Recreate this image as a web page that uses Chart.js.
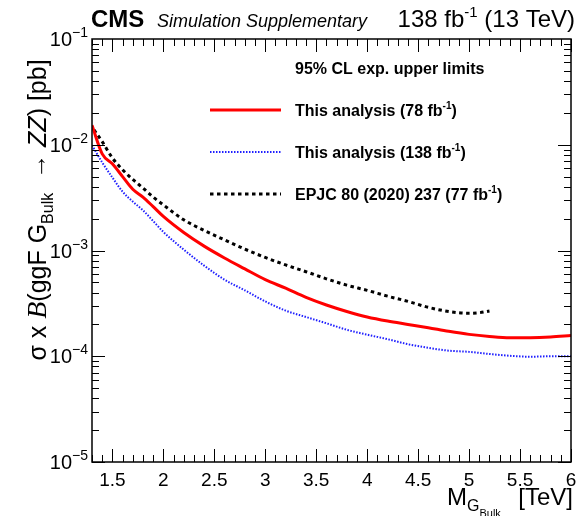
<!DOCTYPE html>
<html>
<head>
<meta charset="utf-8">
<script src="https://cdn.jsdelivr.net/npm/chart.js@4.4.0/dist/chart.umd.min.js"></script>
<style>
html, body { margin: 0; padding: 0; background: #fff; }
</style>
</head>
<body>
<canvas id="myChart" width="577" height="516"></canvas>
<script>
// expected limits: mass in TeV, limit in pb
var mass78 = [1.3, 1.4, 1.5, 1.6, 1.7, 1.8, 1.9, 2.0, 2.2, 2.4, 2.6, 2.8, 3.0, 3.2, 3.4, 3.6, 3.8, 4.0, 4.2, 4.4, 4.6, 4.8, 5.0, 5.2, 5.4, 5.6, 5.8, 6.0];
var limit78 = [0.0153, 0.0082, 0.0066, 0.0050, 0.0038, 0.0032, 0.0026, 0.0021, 0.00148, 0.00110, 0.00085, 0.00067, 0.00053, 0.00044, 0.00036, 0.000305, 0.000265, 0.000235, 0.000215, 0.000200, 0.000186, 0.000172, 0.000161, 0.000154, 0.000150, 0.000150, 0.000152, 0.000157];

var mass138 = [1.3, 1.4, 1.5, 1.6, 1.7, 1.8, 1.9, 2.0, 2.2, 2.4, 2.6, 2.8, 3.0, 3.2, 3.4, 3.6, 3.8, 4.0, 4.2, 4.4, 4.6, 4.8, 5.0, 5.2, 5.4, 5.6, 5.8, 6.0];
var limit138 = [0.0099, 0.0068, 0.0049, 0.0036, 0.0029, 0.0024, 0.0019, 0.00150, 0.00102, 0.00072, 0.00053, 0.00042, 0.00033, 0.00027, 0.000235, 0.000205, 0.000178, 0.000160, 0.000145, 0.000130, 0.000120, 0.000113, 0.000110, 0.000105, 0.000101, 0.000099, 0.000100, 0.000100];

var massEpjc = [1.32, 1.4, 1.5, 1.6, 1.7, 1.8, 1.9, 2.0, 2.2, 2.4, 2.6, 2.8, 3.0, 3.2, 3.4, 3.6, 3.8, 4.0, 4.2, 4.4, 4.6, 4.8, 5.0, 5.1, 5.2];
var limitEpjc = [0.0138, 0.0107, 0.0075, 0.0058, 0.0047, 0.0039, 0.0032, 0.0027, 0.00195, 0.00155, 0.00126, 0.00103, 0.00086, 0.00073, 0.00063, 0.00054, 0.00047, 0.00042, 0.00037, 0.00033, 0.00029, 0.000265, 0.000255, 0.000258, 0.000268];

var xTickValues = [1.5, 2, 2.5, 3, 3.5, 4, 4.5, 5, 5.5, 6];
var yDecades = [-5, -4, -3, -2, -1];

var legendHeader = '95% CL exp. upper limits';
var seriesLabels = ['This analysis (78 fb^{-1})', 'This analysis (138 fb^{-1})', 'EPJC 80 (2020) 237 (77 fb^{-1})'];

var SANS = '"Liberation Sans", Arial, Helvetica, sans-serif';

function points(xs, ys) {
	return xs.map(function(x, i) { return { x: x, y: ys[i] }; });
}

// split "abc^{-1}def" into normal / superscript pieces
function supParts(str, font, supFont, dy) {
	var parts = [];
	var bits = str.split(/\^\{(.*?)\}/);
	for (var i = 0; i < bits.length; i++) {
		if (bits[i] === '') continue;
		if (i % 2 === 0) parts.push({ text: bits[i], font: font, dy: 0 });
		else parts.push({ text: bits[i], font: supFont, dy: dy });
	}
	return parts;
}

function drawParts(ctx, parts, x, y, align) {
	var total = 0;
	parts.forEach(function(p) { ctx.font = p.font; total += ctx.measureText(p.text).width; });
	var cx = x;
	if (align === 'right') cx = x - total;
	else if (align === 'center') cx = x - total / 2;
	ctx.textAlign = 'left';
	parts.forEach(function(p) {
		ctx.font = p.font;
		ctx.fillText(p.text, cx, y + (p.dy || 0));
		cx += ctx.measureText(p.text).width;
	});
	return total;
}

var rootStyle = {
	id: 'rootStyle',
	afterDraw: function(chart) {
		var ctx = chart.ctx, a = chart.chartArea;
		var xs = chart.scales.x, ys = chart.scales.y;
		ctx.save();
		ctx.fillStyle = '#000';
		ctx.strokeStyle = '#000';
		ctx.textBaseline = 'alphabetic';

		// frame
		ctx.lineWidth = 1.5;
		ctx.strokeRect(a.left, a.top, a.right - a.left, a.bottom - a.top);

		// ticks inside the frame, all four sides
		ctx.lineWidth = 1;
		ctx.beginPath();
		for (var k = 13; k <= 60; k++) {
			var px = Math.round(xs.getPixelForValue(k / 10)) + 0.5;
			var len = (k % 5 === 0) ? 13 : 7;
			ctx.moveTo(px, a.bottom); ctx.lineTo(px, a.bottom - len);
			ctx.moveTo(px, a.top); ctx.lineTo(px, a.top + len);
		}
		for (var d = -5; d < -1; d++) {
			for (var m = 1; m <= 9; m++) {
				var py = Math.round(ys.getPixelForValue(m * Math.pow(10, d))) + 0.5;
				var l = (m === 1) ? 13 : 7;
				ctx.moveTo(a.left, py); ctx.lineTo(a.left + l, py);
				ctx.moveTo(a.right, py); ctx.lineTo(a.right - l, py);
			}
		}
		ctx.stroke();

		// y tick labels 10^-n
		yDecades.forEach(function(e) {
			var py = ys.getPixelForValue(Math.pow(10, e));
			drawParts(ctx, [
				{ text: '10', font: '20px ' + SANS, dy: 0 },
				{ text: '\u2212' + (-e), font: '14px ' + SANS, dy: -9 }
			], a.left - 4, py + 7, 'right');
		});

		// header
		drawParts(ctx, [{ text: 'CMS', font: 'bold 24px ' + SANS, dy: 0 }], 91, 27, 'left');
		drawParts(ctx, [{ text: 'Simulation Supplementary', font: 'italic 18px ' + SANS, dy: 0 }], 157, 27, 'left');
		drawParts(ctx, supParts('138 fb^{-1} (13 TeV)', '24px ' + SANS, '15px ' + SANS, -10), 575, 27, 'right');

		// x title
		drawParts(ctx, [
			{ text: 'M', font: '24px ' + SANS, dy: 0 },
			{ text: 'G', font: '16px ' + SANS, dy: 6 },
			{ text: 'Bulk', font: '11px ' + SANS, dy: 12 }
		], 447, 505, 'left');
		drawParts(ctx, [{ text: '[TeV]', font: '24px ' + SANS, dy: 0 }], 573, 505, 'right');

		// y title, rotated
		ctx.save();
		ctx.translate(46, 210);
		ctx.rotate(-Math.PI / 2);
		drawParts(ctx, [
			{ text: '\u03c3 x ', font: '25px ' + SANS, dy: 0 },
			{ text: 'B', font: 'italic 28px "Liberation Serif", serif', dy: 0 },
			{ text: '(ggF G', font: '25px ' + SANS, dy: 0 },
			{ text: 'Bulk', font: '16px ' + SANS, dy: 7 },
			{ text: '  \u2192 ', font: '25px ' + SANS, dy: 0 },
			{ text: 'ZZ', font: 'italic 25px ' + SANS, dy: 0 },
			{ text: ') [pb]', font: '25px ' + SANS, dy: 0 }
		], 0, 0, 'center');
		ctx.restore();

		// legend
		drawParts(ctx, [{ text: legendHeader, font: 'bold 16px ' + SANS, dy: 0 }], 295, 74, 'left');
		var rows = [110, 152, 194];
		chart.data.datasets.forEach(function(ds, i) {
			ctx.save();
			ctx.strokeStyle = ds.borderColor;
			ctx.lineWidth = ds.borderWidth;
			ctx.setLineDash(ds.borderDash || []);
			ctx.beginPath();
			ctx.moveTo(210, rows[i]);
			ctx.lineTo(281, rows[i]);
			ctx.stroke();
			ctx.restore();
			drawParts(ctx, supParts(seriesLabels[i], 'bold 16px ' + SANS, 'bold 10px ' + SANS, -7), 295, rows[i] + 6, 'left');
		});

		ctx.restore();
	}
};

var ctx = document.getElementById('myChart').getContext('2d');
var chart = new Chart(ctx, {
	type: 'line',
	data: {
		datasets: [{
			label: seriesLabels[0],
			data: points(mass78, limit78),
			borderColor: '#ff0000',
			borderWidth: 3,
			pointRadius: 0,
			fill: false,
			cubicInterpolationMode: 'monotone'
		}, {
			label: seriesLabels[1],
			data: points(mass138, limit138),
			borderColor: '#2020ff',
			borderWidth: 2,
			borderDash: [1.5, 1.5],
			pointRadius: 0,
			fill: false,
			cubicInterpolationMode: 'monotone'
		}, {
			label: seriesLabels[2],
			data: points(massEpjc, limitEpjc),
			borderColor: '#000000',
			borderWidth: 3,
			borderDash: [3.5, 3.5],
			pointRadius: 0,
			fill: false,
			cubicInterpolationMode: 'monotone'
		}]
	},
	options: {
		responsive: false,
		animation: false,
		devicePixelRatio: 1,
		layout: { padding: { left: 92, right: 6, top: 39, bottom: 0 } },
		plugins: { legend: { display: false }, tooltip: { enabled: false }, title: { display: false } },
		scales: {
			x: {
				type: 'linear',
				min: 1.3,
				max: 6,
				grid: { display: false },
				border: { display: false },
				afterBuildTicks: function(s) { s.ticks = xTickValues.map(function(v) { return { value: v }; }); },
				afterFit: function(s) { s.height = 54; },
				ticks: {
					color: '#000',
					padding: -1,
					maxRotation: 0,
					autoSkip: false,
					font: { family: SANS, size: 19 },
					callback: function(v) { return String(v); }
				}
			},
			y: {
				type: 'logarithmic',
				min: 1e-5,
				max: 0.1,
				grid: { display: false },
				border: { display: false },
				ticks: { display: false },
				afterFit: function(s) { s.width = 0; }
			}
		}
	},
	plugins: [rootStyle]
});
</script>
</body>
</html>
